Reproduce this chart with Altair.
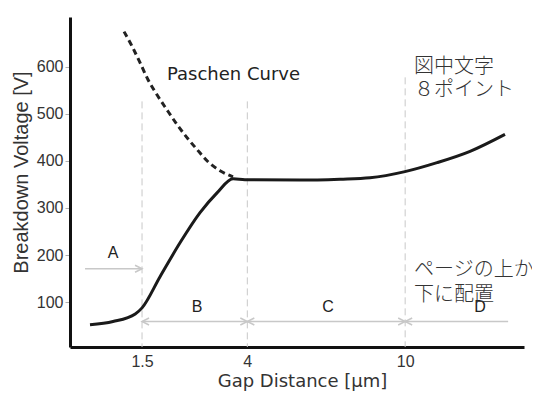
import altair as alt
import pandas as pd

# ---- data ----
solid_x = [0.708, 1.022, 1.380, 1.50, 1.842, 2.263, 2.728, 3.157, 3.59, 3.93, 5.70, 7.20, 8.43, 9.99, 11.54, 13.25, 15.19]
solid_y = [52, 59, 75, 88, 154, 226, 290, 332, 362, 360, 359, 361, 364, 377, 396, 420, 456]

paschen_x = [1.193, 1.325, 1.464, 1.610, 1.782, 1.984, 2.197, 2.421, 2.656, 2.926, 3.236, 3.59]
paschen_y = [674, 643, 608, 572, 540, 508, 477, 449, 424, 398, 379, 366]

grid_x = [1.5, 4, 10]
grid_top = [526, 526, 577]

region_labels = ["A", "B", "C", "D"]
region_label_x = [1.022, 2.656, 6.73, 13.79]
region_label_y = [205, 90, 90, 90]

arrow_a_x = [0.648, 1.5]
arrow_a_y = 171
span_x = [1.5, 15.37]
span_y = 59
left_heads_x = [1.5, 4, 10]
right_heads_x = [4, 10]

x_ticks = [1.5, 4, 10]
y_ticks = [100, 200, 300, 400, 500, 600]

FONT = "Liberation Sans"
JP_FONT = "Noto Sans CJK JP"
LIGHT = "#c8c8c8"

xs = alt.Scale(type="pow", exponent=0.5, domain=[0.482, 16.3], zero=False, nice=False)
ys = alt.Scale(domain=[5, 705], nice=False, zero=False)

X = lambda f: alt.X(f, type="quantitative", scale=xs,
                    axis=alt.Axis(values=x_ticks, format="~g", ticks=False, grid=False,
                                  domainWidth=3, domainColor="#111",
                                  labelFont=FONT, labelFontSize=16, labelColor="#333",
                                  labelPadding=6, title="Gap Distance [µm]",
                                  titleFont="DejaVu Sans", titleFontSize=18, titleFontWeight="normal",
                                  titleColor="#333", titlePadding=3, titleX=232))
Y = lambda f: alt.Y(f, type="quantitative", scale=ys,
                    axis=alt.Axis(values=y_ticks, grid=False, tickColor="#b0b0b0", tickSize=5,
                                  domainWidth=3, domainColor="#111",
                                  labelFont=FONT, labelFontSize=16, labelColor="#333",
                                  labelPadding=2, title="Breakdown Voltage [V]",
                                  titleFont=FONT, titleFontSize=20, titleFontWeight="normal",
                                  titleColor="#333", titlePadding=5, titleY=155))

solid_df = pd.DataFrame({"x": solid_x, "y": solid_y})
pas_df = pd.DataFrame({"x": paschen_x, "y": paschen_y})
grid_df = pd.DataFrame({"x": grid_x, "top": grid_top, "bottom": [5] * len(grid_x)})
lab_df = pd.DataFrame({"x": region_label_x, "y": region_label_y, "t": region_labels})
arrows_df = pd.DataFrame({"x": [arrow_a_x[0], span_x[0]], "x2": [arrow_a_x[1], span_x[1]],
                          "y": [arrow_a_y, span_y]})
lheads = pd.DataFrame({"x": left_heads_x, "y": [span_y] * len(left_heads_x)})
rheads = pd.DataFrame({"x": right_heads_x + [arrow_a_x[1]],
                       "y": [span_y] * len(right_heads_x) + [arrow_a_y]})

grid = alt.Chart(grid_df).mark_rule(color=LIGHT, strokeWidth=1, strokeDash=[7, 4]).encode(
    x=X("x"), y=Y("top"), y2="bottom")

arrows = alt.Chart(arrows_df).mark_rule(color=LIGHT, strokeWidth=1.5).encode(
    x=X("x"), x2="x2", y=Y("y"))

lh = alt.Chart(lheads).mark_point(shape="M1,-0.5L0,0L1,0.5", size=196, filled=False,
                                  color=LIGHT, strokeWidth=1.5, opacity=1).encode(x=X("x"), y=Y("y"))
rh = alt.Chart(rheads).mark_point(shape="M-1,-0.5L0,0L-1,0.5", size=196, filled=False,
                                  color=LIGHT, strokeWidth=1.5, opacity=1).encode(x=X("x"), y=Y("y"))

pas = alt.Chart(pas_df).mark_line(color="#222", strokeWidth=3, strokeDash=[6, 4],
                                  interpolate="monotone").encode(x=X("x"), y=Y("y"))

solid = alt.Chart(solid_df).mark_line(color="#1a1a1a", strokeWidth=3,
                                      interpolate="monotone").encode(x=X("x"), y=Y("y"))

labels = alt.Chart(lab_df).mark_text(font=FONT, fontSize=16, color="#222").encode(
    x=X("x"), y=Y("y"), text="t")

pas_text = alt.Chart(pd.DataFrame({"x": [1.984], "y": [583], "t": ["Paschen Curve"]})).mark_text(
    font="DejaVu Sans", fontSize=18, color="#222", align="left", baseline="middle").encode(
    x=X("x"), y=Y("y"), text="t")

jp1 = alt.Chart(pd.DataFrame({"x": [10.42], "y": [600], "t": ["図中文字\n８ポイント"]})).mark_text(
    font=JP_FONT, fontSize=20, color="#333", align="left", baseline="middle",
    lineBreak="\n", lineHeight=23, fontWeight=300).encode(x=X("x"), y=Y("y"), text="t")

jp2 = alt.Chart(pd.DataFrame({"x": [10.42], "y": [169], "t": ["ページの上か\n下に配置"]})).mark_text(
    font=JP_FONT, fontSize=20, color="#333", align="left", baseline="middle",
    lineBreak="\n", lineHeight=25, fontWeight=300).encode(x=X("x"), y=Y("y"), text="t")

chart = alt.layer(grid, arrows, lh, rh, pas, solid, labels, pas_text, jp1, jp2).properties(
    width=454, height=330,
    autosize=alt.AutoSizeParams(type="none"),
    padding={"left": 62, "top": 9, "right": 8, "bottom": 46},
    background="white",
).configure_view(stroke=None)

chart.save("out.html", embed_options={"renderer": "svg", "actions": False})
